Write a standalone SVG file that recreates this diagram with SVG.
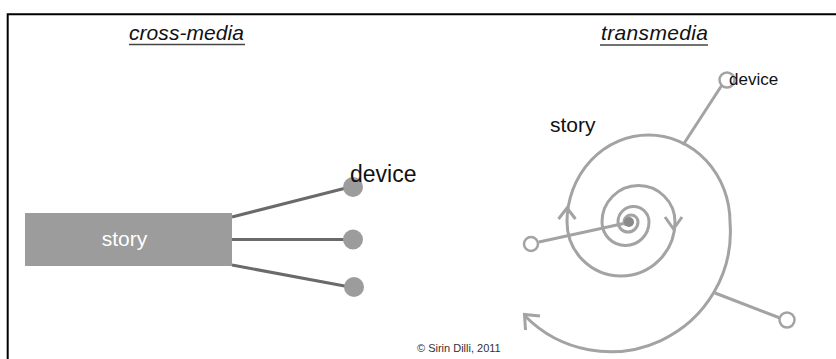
<svg xmlns="http://www.w3.org/2000/svg" width="836" height="359" viewBox="0 0 836 359">
<style>
.title{font-family:"Liberation Sans",Arial,sans-serif;font-style:italic;font-size:21px;fill:#111}
.lbl{font-family:"Liberation Sans",Arial,sans-serif;fill:#111}
.dark{stroke:#6a6a6a;stroke-width:3;fill:none}
.gray{stroke:#a3a3a3;stroke-width:3;fill:none}
.dev{fill:#9c9c9c}
.odev{fill:#fff;stroke:#a3a3a3;stroke-width:2.5}
</style>
<rect width="836" height="359" fill="#fff"/>
<path d="M7.7,359 V14.3 H836" stroke="#000" stroke-width="2" fill="none"/>
<g id="titles">
<text class="title" x="129" y="40" textLength="115">cross-media</text>
<line x1="129" y1="44.5" x2="245" y2="44.5" stroke="#444" stroke-width="1.5"/>
<text class="title" x="601" y="40" textLength="107">transmedia</text>
<line x1="600" y1="45" x2="708" y2="45" stroke="#444" stroke-width="1.5"/>
</g>
<g id="connectors">
<line class="dark" x1="232" y1="217" x2="350" y2="187"/>
<line class="dark" x1="232" y1="239.5" x2="350" y2="239.5"/>
<line class="dark" x1="232" y1="265" x2="350" y2="287"/>
<line class="gray" x1="683" y1="145" x2="722" y2="85"/>
<line class="gray" x1="539" y1="242" x2="626" y2="223"/>
<line class="gray" x1="715" y1="293" x2="780" y2="318"/>
</g>
<g id="story-left">
<rect x="25" y="213" width="207" height="53" fill="#9c9c9c"/>
<text class="lbl" x="124.5" y="246" font-size="21" text-anchor="middle" fill="#fff" style="fill:#fff">story</text>
</g>
<g id="device-left-1"><circle class="dev" cx="353" cy="187" r="10"/></g>
<g id="device-left-2"><circle class="dev" cx="353" cy="239.5" r="10"/></g>
<g id="device-left-3"><circle class="dev" cx="354" cy="287" r="10"/></g>
<text class="lbl" x="350" y="182" font-size="23">device</text>
<g id="spiral">
<path class="gray" d="M629,222 A2.5,2.5 0 0 1 624,222 A7,7 0 0 1 638,222 A10,10 0 0 1 618,222 A15.5,15.5 0 0 1 649,222 A23.5,23.5 0 0 1 602,222 A36.5,36.5 0 0 1 675,222 A54,54 0 0 1 567,222 A81.5,87 0 0 1 730,222 A120,120 0 0 1 525,316"/>
<circle cx="629" cy="222" r="5" fill="#8a8a8a"/>
<polyline class="gray" points="665,217 673.5,229 682,217"/>
<polyline class="gray" points="558.5,219 567,208 575.5,219"/>
<polyline class="gray" points="540,316 524.5,314.5 525.5,330"/>
<text class="lbl" x="550" y="132" font-size="21">story</text>
</g>
<g id="device-right-1"><circle class="odev" cx="727" cy="80" r="7.5"/></g>
<g id="device-right-2"><circle class="odev" cx="531" cy="244" r="7"/></g>
<g id="device-right-3"><circle class="odev" cx="787" cy="320" r="7.5"/></g>
<text class="lbl" x="729" y="85" font-size="17">device</text>
<text class="lbl" x="417" y="352" font-size="11" style="fill:#333">© Sirin Dilli, 2011</text>
</svg>
